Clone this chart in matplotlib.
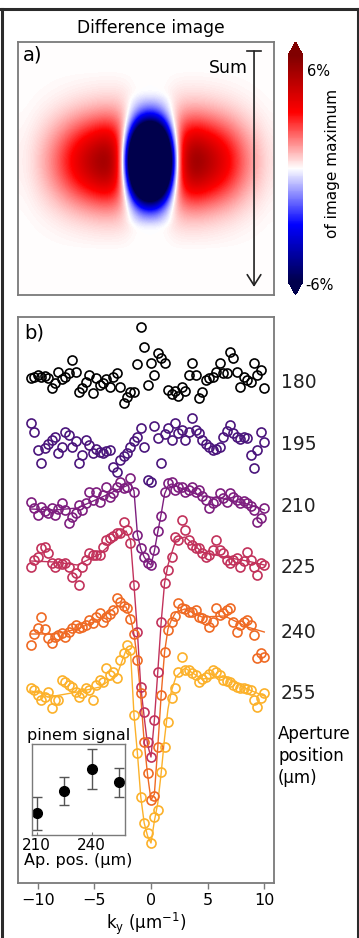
import numpy as np
import matplotlib
matplotlib.use("Agg")
import matplotlib.pyplot as plt
from matplotlib import transforms
from matplotlib.lines import Line2D

plt.rcParams["font.family"] = ["DejaVu Sans"]

# ---- panel a: difference image (% of image maximum), row/column profiles
red_x = [0.03, 0.06, 0.12, 0.2, 0.3, 0.42, 0.55, 0.68, 0.8, 0.9, 0.98, 1.0,
         0.95, 0.7, 0.2, 0.0, 0.0, 0.0, 0.2, 0.7, 0.95, 1.0, 1.0, 0.92, 0.82,
         0.7, 0.57, 0.43, 0.3, 0.2, 0.12, 0.06]
blue_x = [0, 0, 0, 0, 0, 0, 0, 0, 0, 0, 0, 0.01, 0.058, 0.2, 0.49, 0.837,
          1.0, 0.837, 0.49, 0.2, 0.058, 0.01, 0, 0, 0, 0, 0, 0, 0, 0, 0, 0]
red_y = [0, 0, 0, 0, 0.019, 0.039, 0.073, 0.129, 0.212, 0.328, 0.469, 0.627,
         0.781, 0.908, 0.984, 0.996, 0.941, 0.829, 0.681, 0.522, 0.373, 0.248,
         0.154, 0.09, 0.048, 0.024, 0, 0, 0, 0, 0, 0]
blue_y = [0, 0, 0, 0, 0, 0, 0, 0.025, 0.061, 0.133, 0.254, 0.429, 0.639,
          0.839, 0.972, 0.993, 0.895, 0.711, 0.499, 0.309, 0.169, 0.08, 0.034,
          0, 0, 0, 0, 0, 0, 0, 0, 0]
red_amp, blue_amp = 5.3, 30.0

# ---- panel b: line profiles along k_y for each aperture position
k = np.linspace(-10.6, 10.0, 69)
positions = [180, 195, 210, 225, 240, 255]
offsets = [50.1, 43.9, 37.7, 31.6, 25.1, 19.0]

s180 = [0.4, 0.5, 0.7, 0.5, 0.6, 0.4, -0.6, -0.1, 1.0, 0.3,
        0.5, 0.9, 2.2, 1.0, -1.0, -0.6, 0.0, 0.7, -1.1, 0.4,
        -0.3, -0.1, 0.3, -0.5, 0.5, 0.9, -0.5, -2.1, -1.5, -1.0,
        -1.0, 1.8, 5.5, 3.5, -0.3, 1.9, 0.7, 2.9, 2.4, 1.9,
        -0.8, -1.2, -0.9, -1.4, -0.5, -0.9, 0.7, 1.9, 0.7, -1.6,
        -1.0, 0.2, 0.4, 0.5, 1.0, 1.9, 0.9, 0.9, 3.0, 2.4,
        1.0, -0.5, 0.5, 0.2, 0.0, 1.9, 0.7, 1.2, -0.6]
s195 = [2.1, 1.2, -0.6, -1.9, -0.4, 0.0, 0.4, 0.7, -0.9, -0.3,
        1.2, 0.9, -0.3, 0.3, -1.9, -1.1, 0.4, -0.1, -0.9, -0.5,
        -0.8, -0.9, -0.7, -0.6, -2.3, -2.8, -1.6, -1.2, -0.9, -0.3,
        0.3, 0.7, 1.6, -0.3, -3.6, -3.8, 1.8, 0.6, -1.9, 1.0,
        1.6, 0.4, 2.1, 1.1, 1.4, 0.4, 1.2, 2.6, 1.4, 1.1,
        0.4, 0.0, -0.3, -0.6, -0.5, -0.3, 0.7, 1.3, 1.9, 1.1,
        0.7, 0.5, 0.7, 0.6, -1.1, -2.4, -0.6, 1.2, 0.2]
s210 = [0.4, -0.2, -0.9, -0.1, -0.5, -0.7, -0.2, -0.9, -0.3, 0.3,
        -0.4, -1.7, -1.1, -0.7, 0.1, -0.4, 0.3, 1.4, 0.6, 1.4,
        0.4, 1.1, 1.9, 0.9, 1.3, 1.9, 2.4, 1.8, 1.9, 2.8,
        1.4, -2.9, -4.2, -5.1, -5.7, -5.9, -4.4, -2.5, -1.0, 1.4,
        2.3, 2.4, 1.6, 1.9, 1.9, 1.4, 1.6, 1.9, 1.4, 1.6,
        1.0, 0.6, -0.2, 0.3, 0.5, 1.3, 0.8, 0.4, 1.3, 0.9,
        0.6, 0.3, 0.5, 0.3, 0.0, -0.4, -1.6, -1.2, -0.2]
s225 = [0.0, 0.7, 1.0, 1.9, 2.0, 1.4, 0.4, 0.0, 0.4, 0.3,
        0.4, 0.0, -1.0, -0.6, -1.8, 0.0, 0.7, 1.4, 1.2, 1.2,
        1.2, 2.0, 2.7, 2.9, 3.1, 3.4, 3.4, 4.5, 3.7, 2.4,
        -1.8, -6.5, -12.0, -14.5, -17.5, -19.0, -15.3, -10.5, -5.5, -1.6,
        -0.3, 1.0, 3.0, 2.7, 4.7, 3.7, 2.7, 2.2, 1.9, 1.9,
        1.4, 1.0, 1.2, 1.7, 2.7, 1.7, 1.4, 0.7, 0.4, 0.7,
        0.9, 0.0, 0.6, 1.5, 0.7, 0.0, -0.8, 0.4, 0.2]
s240 = [-1.3, -0.2, 0.4, 1.5, 0.3, -0.6, -1.1, -0.5, -0.3, -0.1,
        -0.5, 0.0, 0.4, 0.7, 0.4, 0.5, 0.7, 1.2, 0.9, 1.5,
        1.9, 1.0, 1.5, 1.8, 2.2, 3.4, 3.0, 2.6, 2.4, 1.3,
        -0.2, -2.8, -6.1, -11.0, -14.1, -16.8, -16.4, -11.5, -6.3, -2.0,
        0.2, 1.0, 1.6, 2.9, 2.4, 2.3, 2.0, 2.0, 2.2, 1.5,
        1.4, 1.2, 0.5, 1.0, 2.4, 1.7, 1.9, 2.2, 2.4, 1.0,
        0.0, 0.7, 1.0, 1.2, 0.7, -0.3, -2.6, -2.1, -2.5]
s255 = [0.5, 0.3, -0.2, -0.7, -0.4, 0.1, -1.5, -0.7, -0.7, 1.3,
        1.1, 0.8, 0.6, 0.1, -0.4, 0.0, 0.5, 0.3, -0.7, 0.8,
        1.3, 1.1, 2.5, 1.8, 2.1, 1.5, 3.3, 4.0, 4.8, 4.3,
        -2.2, -6.0, -10.4, -13.0, -14.0, -15.0, -12.4, -11.7, -7.9, -5.4,
        -2.9, -0.5, 0.5, 2.1, 3.6, 2.3, 2.3, 2.0, 1.8, 1.1,
        1.4, 1.6, 1.9, 2.3, 2.1, 1.8, 1.3, 1.2, 1.1, 0.8,
        0.6, 0.5, 0.5, 0.4, 0.3, -0.7, -1.4, -0.5, 0.0]
profiles = [s180, s195, s210, s225, s240, s255]

# fitted curves (only for the positions with a pinem dip)
fit_k = [-10.6, -8.5, -6.5, -4.5, -3.0, -2.2, -1.8, -1.5, -1.2, -0.9, -0.6,
         -0.3, 0.0, 0.3, 0.6, 0.9, 1.2, 1.5, 1.8, 2.2, 3.0, 4.5, 6.5, 8.5, 10.0]
fit210 = [-0.3, -0.4, -0.2, 0.8, 1.6, 2.0, 2.2, 1.5, -2.8, -4.3, -5.1, -5.6,
          -5.9, -4.5, -2.6, -0.8, 1.2, 2.0, 2.2, 2.0, 1.6, 1.0, 0.7, 0.2, -0.4]
fit225 = [0.6, 0.5, 0.2, 1.3, 2.9, 3.6, 2.6, -1.8, -6.5, -12.0, -15.0, -17.8,
          -19.0, -15.3, -10.5, -5.5, -1.6, 0.2, 1.3, 2.7, 3.0, 1.5, 1.0, 0.6, 0.2]
fit240 = [-0.2, -0.2, 0.3, 1.3, 2.6, 2.5, 1.4, -0.2, -2.8, -6.5, -11.0, -14.3,
          -16.8, -16.2, -11.5, -6.3, -2.0, 0.3, 1.2, 2.0, 2.3, 1.5, 1.6, 0.5, 0.0]
fit255 = [0.2, -0.3, 0.1, 0.6, 1.8, 4.3, 4.0, -2.2, -6.0, -10.4, -13.0, -14.3,
          -15.0, -12.8, -11.0, -8.0, -4.5, -1.6, 0.2, 1.6, 2.5, 1.4, 1.6, 0.4, -0.3]
fits = [None, None, fit210, fit225, fit240, fit255]

colors = ["#000000", "#4a157c", "#7d1e7f", "#c2325b", "#ef6a24", "#fcb12a"]

# inset: pinem signal vs aperture position
ap_pos = [210, 225, 240, 255]
pinem = [0.24, 0.48, 0.73, 0.58]
pinem_err = [0.18, 0.155, 0.22, 0.16]

W, H = 359, 938
FRAME = "#7a7a7a"


def rect(l, t, r, b):
    return [l / W, 1 - b / H, (r - l) / W, (b - t) / H]


def gray_frame(ax, lw=1.3):
    for sp in ax.spines.values():
        sp.set_color(FRAME)
        sp.set_linewidth(lw)


fig = plt.figure(figsize=(W / 100, H / 100), dpi=100)

# ---------------- a) difference image
ax_a = fig.add_axes(rect(18, 42, 274, 295))
img = red_amp * np.outer(red_y, red_x) - blue_amp * np.outer(blue_y, blue_x)
im = ax_a.imshow(img, cmap="seismic", vmin=-6, vmax=6, extent=(0, 1, 0, 1),
                 aspect="auto", interpolation="bicubic")
ax_a.set_xlim(0, 1); ax_a.set_ylim(0, 1)
ax_a.set_xticks([]); ax_a.set_yticks([])
gray_frame(ax_a)
ax_a.text(0.02, 0.985, "a)", transform=ax_a.transAxes, fontsize=14,
          ha="left", va="top")
# "Sum" arrow: flat cap on top, open head at the bottom
ax_a.annotate("", xy=(0.922, 0.032), xytext=(0.922, 0.964),
              arrowprops=dict(arrowstyle="->, head_length=0.55, head_width=0.35",
                              lw=1.2, color="#222222", shrinkA=0, shrinkB=0,
                              mutation_scale=14))
ax_a.plot([0.895, 0.949], [0.964, 0.964], color="#222222", lw=1.2)
ax_a.text(0.898, 0.897, "Sum", fontsize=12.5, ha="right", va="center")
fig.text(151 / W, 1 - 28 / H, "Difference image", fontsize=12.3,
         ha="center", va="center")

cax = fig.add_axes(rect(288, 42, 303, 295))
cb = fig.colorbar(im, cax=cax, extend="both", extendfrac=0.06)
cb.set_ticks([])
cb.outline.set_visible(False)
fig.text(307 / W, 1 - 72 / H, "6%", fontsize=10.5, ha="left", va="center")
fig.text(305 / W, 1 - 285 / H, "-6%", fontsize=10.5, ha="left", va="center")
fig.text(333 / W, 1 - 163 / H, "of image maximum", rotation=90,
         fontsize=11, ha="center", va="center")

# ---------------- b) profiles
ax_b = fig.add_axes(rect(18, 317, 274, 883))
lab = transforms.blended_transform_factory(ax_b.transAxes, ax_b.transData)
for pos, off, vals, fit, c in zip(positions, offsets, profiles, fits, colors):
    if fit is not None:
        ax_b.plot(fit_k, off + np.array(fit), color=c, lw=1.0, zorder=2)
    ax_b.plot(k, off + np.array(vals), ls="none", marker="o", ms=6.5,
              mfc="none", mec=c, mew=1.2, zorder=3)
    ax_b.text(1.027, off, str(pos), transform=lab, fontsize=13.5,
              ha="left", va="center", color="#222222")
ax_b.text(1.016, 12.7, "Aperture\nposition\n(\u03bcm)", transform=lab,
          fontsize=12, ha="left", va="center", linespacing=1.3)
ax_b.set_xlim(-11.74, 10.86)
ax_b.set_ylim(0, 56.6)
ax_b.set_yticks([])
ax_b.set_xticks([-10, -5, 0, 5, 10])
ax_b.tick_params(axis="x", direction="out", length=4, width=1, color=FRAME,
                 labelsize=11.5, pad=3)
ax_b.set_xlabel("k$_\\mathregular{y}$ (\u03bcm$^\\mathregular{-1}$)",
                fontsize=12, labelpad=2)
gray_frame(ax_b)
ax_b.text(0.025, 0.988, "b)", transform=ax_b.transAxes, fontsize=14,
          ha="left", va="top")

# inset
ax_in = fig.add_axes(rect(31.7, 744, 125, 835))
ax_in.errorbar(ap_pos, pinem, yerr=pinem_err, fmt="o", color="black", ms=7,
               ecolor="#555555", elinewidth=1.0, capsize=3.5, capthick=1.0)
ax_in.set_xlim(207.3, 258.2)
ax_in.set_ylim(0, 1)
ax_in.set_yticks([])
ax_in.set_xticks([210, 240])
ax_in.tick_params(axis="x", direction="in", length=2, color=FRAME,
                  labelsize=11, pad=2)
ax_in.set_title("pinem signal", fontsize=11.5, pad=3)
ax_in.set_xlabel("Ap. pos. (\u03bcm)", fontsize=11.5, labelpad=0)
gray_frame(ax_in, lw=1.0)

# dark border round the figure
for xs, ys in [((1.5, 1.5), (9.5, H)), ((0, W), (9.5, 9.5)),
               ((357.5, 357.5), (9.5, H))]:
    fig.add_artist(Line2D([x / W for x in xs], [1 - y / H for y in ys],
                          color="#2b2b2b", lw=2.2, transform=fig.transFigure))

fig.savefig("out.png", dpi=100)
